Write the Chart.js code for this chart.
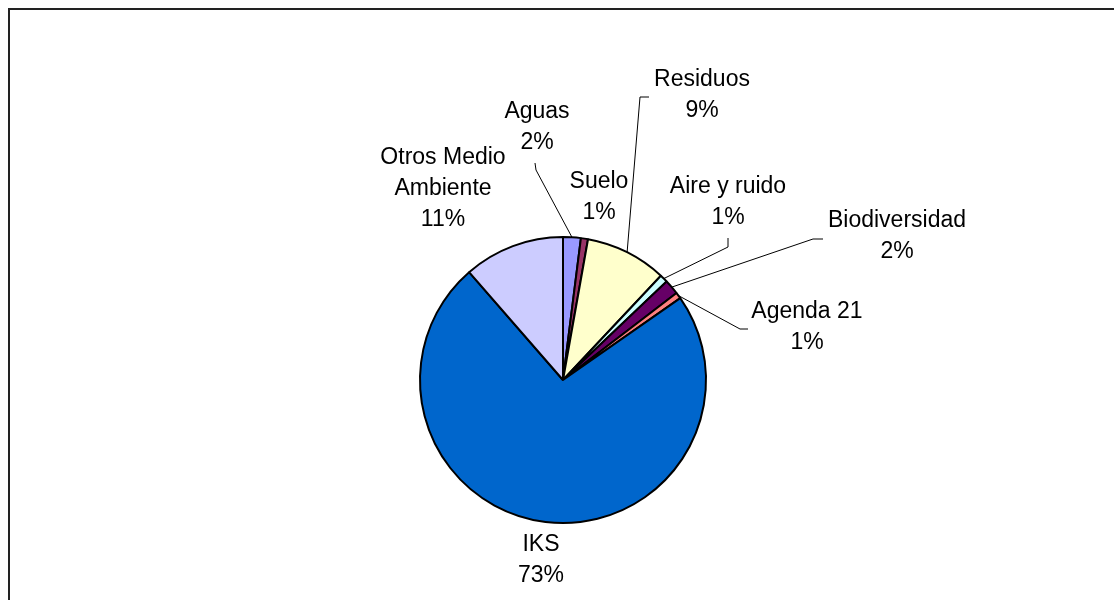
<!DOCTYPE html>
<html>
<head>
<meta charset="utf-8">
<script src="https://cdn.jsdelivr.net/npm/chart.js@4"></script>
<style>
  html, body { margin: 0; padding: 0; background: #ffffff; overflow: hidden; }
  #wrap { position: relative; width: 1114px; height: 600px; }
</style>
</head>
<body>
<div id="wrap"><canvas id="c" width="1114" height="600"></canvas></div>
<script>
// ---- data ----
const categories = ['Aguas', 'Suelo', 'Residuos', 'Aire y ruido', 'Biodiversidad', 'Agenda 21', 'IKS', ['Otros Medio', 'Ambiente']];
const shares = [2.0, 0.8, 9.2, 0.9, 1.7, 0.7, 73.3, 11.4];
const sliceColors = ['#9999FF', '#993366', '#FFFFCC', '#CCFFFF', '#660066', '#FF8080', '#0066CC', '#CCCCFF'];

// ---- label layout (offsets from pie centre, px) ----
const labelOffsets = [[-26, -268], [36, -198], [139, -300], [165, -193], [334, -159], [244, -68], [-22, 165], [-120, -222]];
// leader elbow points (offsets from pie centre), null = no leader
const leaderElbows = [
  [[-28, -217], [-27, -210]],
  null,
  [[86, -283], [77, -283]],
  [[165, -142], [165, -133]],
  [[260, -141], [250, -141]],
  [[185, -51], [177, -51]],
  null,
  null
];

const FONT = '23px "Liberation Sans", Arial, sans-serif';
const LINE_H = 31;

const labelPlugin = {
  id: 'pieLabels',
  beforeDraw(chart) {
    const ctx = chart.ctx;
    ctx.save();
    ctx.fillStyle = '#ffffff';
    ctx.fillRect(0, 0, chart.width, chart.height);
    ctx.strokeStyle = '#222222';
    ctx.lineWidth = 2;
    ctx.beginPath();
    ctx.moveTo(9, 1200);
    ctx.lineTo(9, 9);
    ctx.lineTo(2000, 9);
    ctx.stroke();
    ctx.restore();
  },
  afterDraw(chart) {
    const ctx = chart.ctx;
    const meta = chart.getDatasetMeta(0);
    const data = chart.data.datasets[0].data;
    const total = data.reduce((a, b) => a + b, 0);
    ctx.save();
    ctx.font = FONT;
    ctx.fillStyle = '#000000';
    ctx.textAlign = 'center';
    ctx.textBaseline = 'middle';
    meta.data.forEach((arc, i) => {
      const p = arc.getProps(['x', 'y', 'startAngle', 'endAngle', 'outerRadius'], true);
      const cx = p.x, cy = p.y;
      const lbl = chart.data.labels[i];
      const lines = (Array.isArray(lbl) ? lbl.slice() : [lbl]);
      lines.push(Math.round(data[i] / total * 100) + '%');
      const off = labelOffsets[i];
      lines.forEach((t, k) => {
        ctx.fillText(t, cx + off[0], cy + off[1] + k * LINE_H);
      });
      const el = leaderElbows[i];
      if (el) {
        const mid = (p.startAngle + p.endAngle) / 2;
        const ex = cx + Math.cos(mid) * p.outerRadius;
        const ey = cy + Math.sin(mid) * p.outerRadius;
        ctx.strokeStyle = '#000000';
        ctx.lineWidth = 1;
        ctx.beginPath();
        ctx.moveTo(cx + el[0][0], cy + el[0][1]);
        for (let k = 1; k < el.length; k++) ctx.lineTo(cx + el[k][0], cy + el[k][1]);
        ctx.lineTo(ex, ey);
        ctx.stroke();
      }
    });
    ctx.restore();
  }
};

new Chart(document.getElementById('c'), {
  type: 'pie',
  data: {
    labels: categories,
    datasets: [{
      data: shares,
      backgroundColor: sliceColors,
      borderColor: '#000000',
      borderWidth: 2,
      borderAlign: 'center'
    }]
  },
  options: {
    responsive: false,
    animation: false,
    rotation: 0,
    layout: { padding: { top: 236, bottom: 76, left: 200, right: 188 } },
    plugins: {
      legend: { display: false },
      tooltip: { enabled: false },
      title: { display: false }
    }
  },
  plugins: [labelPlugin]
});
</script>
</body>
</html>
